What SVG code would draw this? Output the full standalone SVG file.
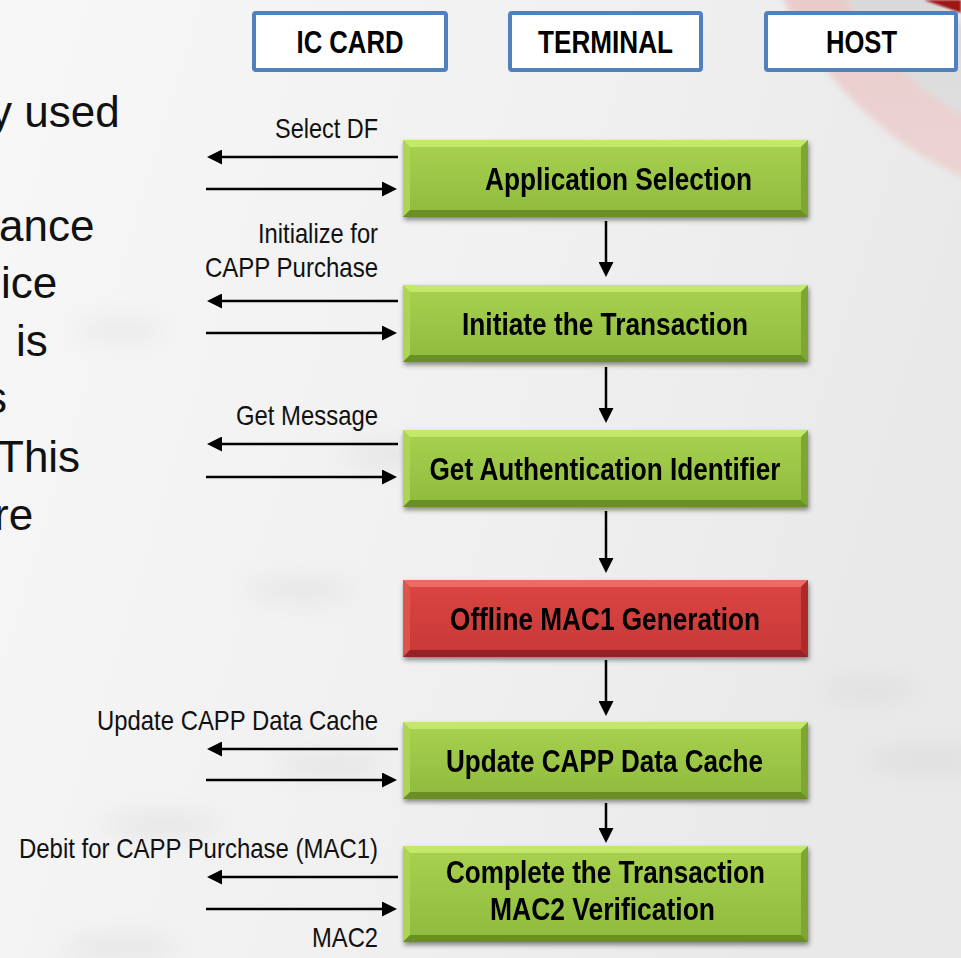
<svg xmlns="http://www.w3.org/2000/svg" width="961" height="958" viewBox="0 0 961 958">
  <defs>
    <linearGradient id="bg" x1="0" y1="0" x2="1" y2="0.3">
      <stop offset="0" stop-color="#f7f7f7"/>
      <stop offset="0.6" stop-color="#f0f0f0"/>
      <stop offset="1" stop-color="#e9e9e9"/>
    </linearGradient>
    <linearGradient id="pinkBand" x1="0" y1="0" x2="0" y2="1">
      <stop offset="0" stop-color="#e2b4b4"/>
      <stop offset="1" stop-color="#ecd4d4"/>
    </linearGradient>
    <linearGradient id="greyBand" x1="0" y1="0" x2="0" y2="1">
      <stop offset="0" stop-color="#b8b8b8"/>
      <stop offset="1" stop-color="#dcdcdc"/>
    </linearGradient>
    <linearGradient id="greenFace" x1="0" y1="0" x2="0" y2="1">
      <stop offset="0" stop-color="#a8d24f"/>
      <stop offset="1" stop-color="#8eba3d"/>
    </linearGradient>
    <linearGradient id="redFace" x1="0" y1="0" x2="0" y2="1">
      <stop offset="0" stop-color="#db4641"/>
      <stop offset="1" stop-color="#c83838"/>
    </linearGradient>
    <filter id="soft" x="-50%" y="-50%" width="200%" height="200%">
      <feGaussianBlur stdDeviation="3"/>
    </filter>
    <filter id="edge" x="-50%" y="-50%" width="200%" height="200%">
      <feGaussianBlur stdDeviation="1.2"/>
    </filter>
    <filter id="smudge" x="-100%" y="-300%" width="300%" height="700%">
      <feGaussianBlur stdDeviation="12"/>
    </filter>
    <filter id="shadow" x="-5%" y="-10%" width="110%" height="130%">
      <feDropShadow dx="1" dy="3" stdDeviation="2.5" flood-color="#000" flood-opacity="0.45"/>
    </filter>
    <marker id="ah" markerUnits="userSpaceOnUse" markerWidth="15" markerHeight="15" refX="5" refY="7.5" orient="auto">
      <path d="M0,0 L15,7.5 L0,15 z" fill="#000"/>
    </marker>
    <style>
      .hdr rect { fill: #ffffff; stroke: #4f81bd; stroke-width: 4; }
      .hdr text { font-family: "Liberation Sans Narrow", "Arial Narrow", "Liberation Sans", sans-serif; font-weight: bold; font-size: 31px; fill: #000; text-anchor: middle; }
      .step text { font-family: "Liberation Sans Narrow", "Arial Narrow", "Liberation Sans", sans-serif; font-weight: bold; font-size: 32px; fill: #000; text-anchor: middle; }
      .step { filter: url(#shadow); }
      .g .face { fill: url(#greenFace); }
      .g .bt { fill: #c3e86b; }
      .g .bl { fill: #abd553; }
      .g .br { fill: #7ea632; }
      .g .bb { fill: #6b8f27; }
      .r .face { fill: url(#redFace); }
      .r .bt { fill: #ec6c64; }
      .r .bl { fill: #df534d; }
      .r .br { fill: #ad2b2b; }
      .r .bb { fill: #952427; }
      .lbl { font-family: "Liberation Sans Narrow", "Arial Narrow", "Liberation Sans", sans-serif; font-size: 28px; fill: #111; text-anchor: end; }
      .body { font-family: "Liberation Sans", Arial, sans-serif; font-size: 44px; fill: #111; }
      .conn line { stroke: #000; stroke-width: 2.5; marker-end: url(#ah); }
    </style>
  </defs>

  <!-- slide backdrop -->
  <g id="backdrop">
    <rect x="0" y="0" width="961" height="958" fill="url(#bg)"/>
    <g filter="url(#smudge)" fill="#c4c4c4" opacity="0.35">
      <ellipse cx="400" cy="455" rx="60" ry="9"/>
      <ellipse cx="300" cy="590" rx="55" ry="8"/>
      <ellipse cx="160" cy="825" rx="60" ry="9"/>
      <ellipse cx="120" cy="948" rx="60" ry="9"/>
      <ellipse cx="930" cy="760" rx="65" ry="10"/>
      <ellipse cx="330" cy="765" rx="55" ry="8"/>
      <ellipse cx="870" cy="690" rx="50" ry="8"/>
      <ellipse cx="120" cy="330" rx="45" ry="7"/>
    </g>
    <g filter="url(#soft)">
      <circle cx="1110" cy="-150" r="331" fill="none" stroke="url(#pinkBand)" stroke-width="56"/>
      <circle cx="1110" cy="-150" r="266" fill="none" stroke="url(#greyBand)" stroke-width="74" opacity="0.8"/>
    </g>
    <path d="M924,0 L961,0 L961,13 Q944,7 924,0 Z" fill="#9e1414" filter="url(#edge)"/>
  </g>

  <!-- body text running off the left edge -->
  <g id="body-text" class="body">
    <text x="-10" y="127">y used</text>
    <text x="-1" y="241">ance</text>
    <text x="1" y="298">ice</text>
    <text x="16" y="356">is</text>
    <text x="-15" y="413">s</text>
    <text x="-3" y="472">This</text>
    <text x="-6" y="530">re</text>
  </g>

  <!-- lane headers -->
  <g id="hdr-card" class="hdr">
    <rect x="254" y="13" width="192" height="57" rx="2"/>
    <text x="350" y="53" textLength="107" lengthAdjust="spacingAndGlyphs">IC CARD</text>
  </g>
  <g id="hdr-terminal" class="hdr">
    <rect x="510" y="13" width="191" height="57" rx="2"/>
    <text x="605.5" y="53" textLength="135" lengthAdjust="spacingAndGlyphs">TERMINAL</text>
  </g>
  <g id="hdr-host" class="hdr">
    <rect x="766" y="13" width="190" height="57" rx="2"/>
    <text x="861.5" y="53" textLength="71" lengthAdjust="spacingAndGlyphs">HOST</text>
  </g>

  <!-- terminal steps -->
  <g id="step-app-select" class="step g">
    <rect class="face" x="403" y="140" width="405" height="77"/>
    <polygon class="bt" points="403,140 808,140 801,147 410,147"/>
    <polygon class="bl" points="403,140 410,147 410,210 403,217"/>
    <polygon class="br" points="808,140 808,217 801,210 801,147"/>
    <polygon class="bb" points="403,217 410,210 801,210 808,217"/>
    <text x="618.5" y="190" textLength="267" lengthAdjust="spacingAndGlyphs">Application Selection</text>
  </g>
  <g id="step-initiate" class="step g">
    <rect class="face" x="403" y="285" width="405" height="77"/>
    <polygon class="bt" points="403,285 808,285 801,292 410,292"/>
    <polygon class="bl" points="403,285 410,292 410,355 403,362"/>
    <polygon class="br" points="808,285 808,362 801,355 801,292"/>
    <polygon class="bb" points="403,362 410,355 801,355 808,362"/>
    <text x="605" y="335" textLength="286" lengthAdjust="spacingAndGlyphs">Initiate the Transaction</text>
  </g>
  <g id="step-auth-id" class="step g">
    <rect class="face" x="403" y="430" width="405" height="77"/>
    <polygon class="bt" points="403,430 808,430 801,437 410,437"/>
    <polygon class="bl" points="403,430 410,437 410,500 403,507"/>
    <polygon class="br" points="808,430 808,507 801,500 801,437"/>
    <polygon class="bb" points="403,507 410,500 801,500 808,507"/>
    <text x="605" y="480" textLength="351" lengthAdjust="spacingAndGlyphs">Get Authentication Identifier</text>
  </g>
  <g id="step-mac1" class="step r">
    <rect class="face" x="403" y="580" width="405" height="77"/>
    <polygon class="bt" points="403,580 808,580 801,587 410,587"/>
    <polygon class="bl" points="403,580 410,587 410,650 403,657"/>
    <polygon class="br" points="808,580 808,657 801,650 801,587"/>
    <polygon class="bb" points="403,657 410,650 801,650 808,657"/>
    <text x="605" y="630" textLength="310" lengthAdjust="spacingAndGlyphs">Offline MAC1 Generation</text>
  </g>
  <g id="step-update-cache" class="step g">
    <rect class="face" x="403" y="722" width="405" height="77"/>
    <polygon class="bt" points="403,722 808,722 801,729 410,729"/>
    <polygon class="bl" points="403,722 410,729 410,792 403,799"/>
    <polygon class="br" points="808,722 808,799 801,792 801,729"/>
    <polygon class="bb" points="403,799 410,792 801,792 808,799"/>
    <text x="604.5" y="772" textLength="317" lengthAdjust="spacingAndGlyphs">Update CAPP Data Cache</text>
  </g>
  <g id="step-complete" class="step g">
    <rect class="face" x="403" y="846" width="405" height="96"/>
    <polygon class="bt" points="403,846 808,846 801,853 410,853"/>
    <polygon class="bl" points="403,846 410,853 410,935 403,942"/>
    <polygon class="br" points="808,846 808,942 801,935 801,853"/>
    <polygon class="bb" points="403,942 410,935 801,935 808,942"/>
    <text x="605.5" y="883" textLength="319" lengthAdjust="spacingAndGlyphs">Complete the Transaction</text>
    <text x="602.5" y="920" textLength="225" lengthAdjust="spacingAndGlyphs">MAC2 Verification</text>
  </g>

  <!-- connectors -->
  <g id="connectors" class="conn">
    <!-- step flow -->
    <line x1="606" y1="221" x2="606" y2="267"/>
    <line x1="606" y1="367" x2="606" y2="413"/>
    <line x1="606" y1="511" x2="606" y2="563"/>
    <line x1="606" y1="660" x2="606" y2="706"/>
    <line x1="606" y1="803" x2="606" y2="833"/>
    <!-- card exchanges: command out, response back -->
    <line x1="398" y1="157" x2="217" y2="157"/>
    <line x1="206" y1="189" x2="387" y2="189"/>
    <line x1="398" y1="301" x2="217" y2="301"/>
    <line x1="206" y1="333" x2="387" y2="333"/>
    <line x1="398" y1="444" x2="217" y2="444"/>
    <line x1="206" y1="477" x2="387" y2="477"/>
    <line x1="398" y1="749" x2="217" y2="749"/>
    <line x1="206" y1="780" x2="387" y2="780"/>
    <line x1="398" y1="877" x2="217" y2="877"/>
    <line x1="206" y1="909" x2="387" y2="909"/>
  </g>

  <!-- exchange labels -->
  <g id="labels">
    <text class="lbl" x="378" y="138" textLength="103" lengthAdjust="spacingAndGlyphs">Select DF</text>
    <text class="lbl" x="378" y="243" textLength="120" lengthAdjust="spacingAndGlyphs">Initialize for</text>
    <text class="lbl" x="378" y="277" textLength="173" lengthAdjust="spacingAndGlyphs">CAPP Purchase</text>
    <text class="lbl" x="378" y="425" textLength="142" lengthAdjust="spacingAndGlyphs">Get Message</text>
    <text class="lbl" x="378" y="730" textLength="281" lengthAdjust="spacingAndGlyphs">Update CAPP Data Cache</text>
    <text class="lbl" x="378" y="858" textLength="359" lengthAdjust="spacingAndGlyphs">Debit for CAPP Purchase (MAC1)</text>
    <text class="lbl" x="378" y="947" textLength="66" lengthAdjust="spacingAndGlyphs">MAC2</text>
  </g>
</svg>
